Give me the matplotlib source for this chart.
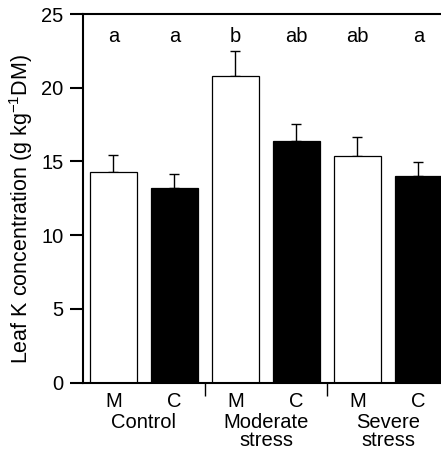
import matplotlib
matplotlib.use("Agg")
import matplotlib.pyplot as plt
import matplotlib.transforms as mtransforms
import numpy as np

plt.rcParams["font.family"] = ["Liberation Sans", "DejaVu Sans"]
plt.rcParams["mathtext.default"] = "regular"

# Leaf K per treatment, M and C bars within each stress group
groups = ["Control", "Moderate\nstress", "Severe\nstress"]
barLabels = ["M", "C", "M", "C", "M", "C"]
means = [14.3, 13.2, 20.8, 16.4, 15.4, 14.0]
errs = [1.15, 0.93, 1.72, 1.14, 1.29, 0.98]
letters = ["a", "a", "b", "ab", "ab", "a"]
fills = ["white", "black", "white", "black", "white", "black"]

fs = 14.5

fig = plt.figure(figsize=(4.41, 4.54), dpi=100)
ax = fig.add_axes([83 / 441, 71.3 / 454, 358 / 441, 368.7 / 454])

x = np.arange(len(means))
ax.bar(x, means, width=0.77, color=fills, edgecolor="black", linewidth=0.9, zorder=2)
ax.errorbar(x, means, yerr=[np.zeros(len(errs)), errs], fmt="none",
            ecolor="black", elinewidth=1.0, capsize=3.8, capthick=1.0, zorder=1)

for xi, lab in zip(x, letters):
    ax.text(xi, 23.45, lab, ha="center", va="center", fontsize=fs)

ax.set_xlim(-0.5, 5.37)
ax.set_ylim(0, 25)
ax.set_yticks([0, 5, 10, 15, 20, 25])
ax.set_xticks(x)
ax.set_xticklabels(barLabels)
ax.set_xticks([1.5, 3.5], minor=True)
ax.tick_params(axis="x", which="major", length=0, pad=6.5, labelsize=fs)
ax.tick_params(axis="x", which="minor", length=9, width=1.0, direction="out")
ax.tick_params(axis="y", length=9.4, width=1.5, pad=4.5, labelsize=fs)

ax.spines["right"].set_visible(False)
for s in ["left", "top", "bottom"]:
    ax.spines[s].set_linewidth(1.5)

trans = mtransforms.blended_transform_factory(ax.transData, ax.transAxes)
for i, g in enumerate(groups):
    ax.text(2 * i + 0.5, -0.082, g, transform=trans, ha="center", va="top",
            fontsize=fs, linespacing=0.92)

ax.set_ylabel("Leaf K concentration (g kg$^{-1}$DM)", fontsize=15.5)
ax.yaxis.set_label_coords(-0.135, 0.47)

fig.savefig("out.png", dpi=100)
